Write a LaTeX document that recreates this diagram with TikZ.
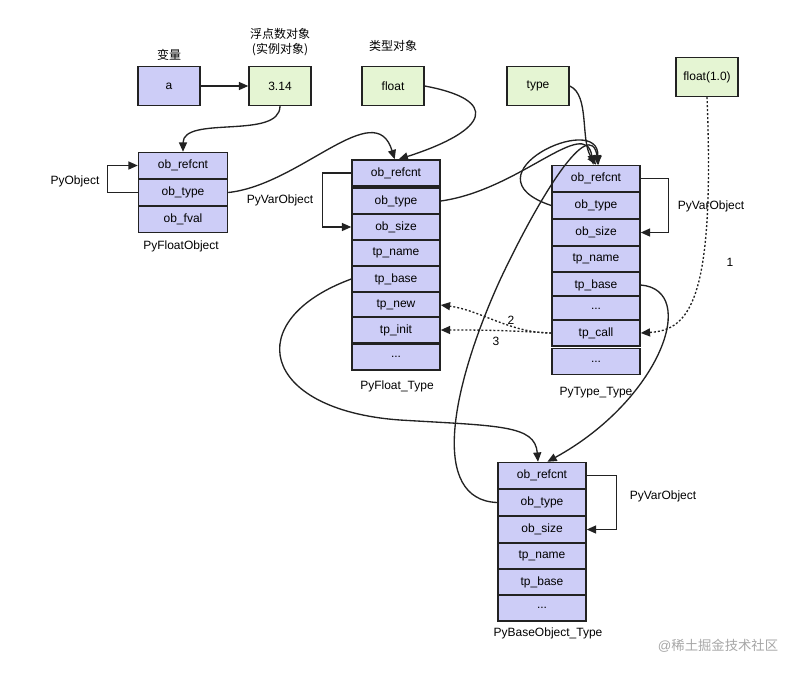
\documentclass[tikz,border=0pt]{standalone}
\usepackage{fontspec}
\setmainfont{Liberation Sans}
\newfontfamily\cjk{Noto Sans CJK SC}
\usetikzlibrary{arrows.meta}
\definecolor{bfill}{HTML}{CDCDF7}
\definecolor{gfill}{HTML}{E5F5D3}
\definecolor{edge}{HTML}{222222}
\begin{document}
\begin{tikzpicture}[x=0.75pt,y=-0.75pt,font=\fontsize{9}{10}\selectfont,
  box/.style={draw=edge,line width=1.1pt,minimum width=46.5pt,minimum height=29pt,inner sep=0pt},
  row/.style={draw=edge,line width=1.1pt,fill=bfill,minimum width=66pt,minimum height=19.5pt,inner sep=0pt},
  lbl/.style={inner sep=1pt},
  arr/.style={draw=edge,line width=1pt,-{Triangle[length=7pt,width=6pt]}},
  dot/.style={arr,dash pattern=on 1.5pt off 1.5pt}]
\useasboundingbox (0,0) rectangle (805,676);
% top boxes
\node[box,fill=bfill] (a) at (169,86) {a};
\node[box,fill=gfill] (v) at (280,86) {3.14};
\node[box,fill=gfill] (fl) at (393,86) {float};
\node[box,fill=gfill] (ty) at (538,86) {type};
\node[box,fill=gfill] (f1) at (707,77) {float(1.0)};
\node[lbl,font=\cjk\fontsize{9}{10}\selectfont] (la) at (169,55) {变量};
\node[lbl,font=\cjk\fontsize{9}{11}\selectfont,align=center] (lv) at (280,42) {浮点数对象\\(实例对象)};
\node[lbl,font=\cjk\fontsize{9}{10}\selectfont] (lf) at (393,46) {类型对象};
% PyFloatObject
\node[row,minimum width=66.75pt] (fo1) at (183,165.5) {ob\_refcnt};
\node[row,minimum width=66.75pt] (fo2) at (183,192.5) {ob\_type};
\node[row,minimum width=66.75pt] (fo3) at (183,219.5) {ob\_fval};
\node[lbl] (lfo) at (181,246) {PyFloatObject};
% PyFloat_Type
\node[row] (ft1) at (396,173) {ob\_refcnt};
\node[row] (ft2) at (396,201) {ob\_type};
\node[row] (ft3) at (396,227) {ob\_size};
\node[row] (ft4) at (396,253) {tp\_name};
\node[row] (ft5) at (396,279) {tp\_base};
\node[row] (ft6) at (396,305) {tp\_new};
\node[row] (ft7) at (396,330) {tp\_init};
\node[row] (ft8) at (396,357) {...};
\node[lbl] (lft) at (397,386) {PyFloat\_Type};
% PyType_Type
\node[row] (tt1) at (596,178.5) {ob\_refcnt};
\node[row] (tt2) at (596,205.5) {ob\_type};
\node[row] (tt3) at (596,232.5) {ob\_size};
\node[row] (tt4) at (596,259) {tp\_name};
\node[row] (tt5) at (596,285) {tp\_base};
\node[row] (tt6) at (596,309) {...};
\node[row] (tt7) at (596,333) {tp\_call};
\node[row] (tt8) at (596,361.5) {...};
\node[lbl] (ltt) at (596,393) {PyType\_Type};
% PyBaseObject_Type
\node[row] (bb1) at (542,475.5) {ob\_refcnt};
\node[row] (bb2) at (542,502.5) {ob\_type};
\node[row] (bb3) at (542,529.5) {ob\_size};
\node[row] (bb4) at (542,556) {tp\_name};
\node[row] (bb5) at (542,582) {tp\_base};
\node[row] (bb6) at (542,608) {...};
\node[lbl] (lbb) at (548,633) {PyBaseObject\_Type};
% bracket labels
\node[lbl] (lpo) at (75,181) {PyObject};
\node[lbl] (lpv1) at (280,200) {PyVarObject};
\node[lbl] (lpv2) at (711,206) {PyVarObject};
\node[lbl] (lpv3) at (663,496) {PyVarObject};
\node[lbl,text=gray!70] (wm) at (718,646) {\fontsize{10}{12}\selectfont @{\cjk 稀土掘金技术社区}};
% brackets
\draw[arr] (fo2.west) -- ++(-30,0) |- (fo1.west);
\draw[arr] (ft1.west) -- ++(-29,0) |- (ft3.west);
\draw[arr] (tt1.east) -- ++(28,0) |- (tt3.east);
\draw[arr] (bb1.east) -- ++(30,0) |- (bb3.east);
% connectors
\draw[arr] (a) -- (v);
\draw[arr] (v.south) .. controls (280,140) and (183,115) .. (fo1.north);
\draw[arr] (fo2.east) .. controls (300,185) and (375,95) .. ([xshift=-1pt]ft1.north);
\draw[arr] (fl.east) .. controls (500,100) and (490,130) .. ([xshift=2pt]ft1.north);
\draw[arr] (ft2.east) .. controls (520,190) and (585,115) .. ([xshift=-2pt]tt1.north);
\draw[arr] (ty.east) .. controls (590,95) and (580,140) .. (tt1.north);
\draw[arr] (tt2.west) .. controls (460,175) and (600,110) .. ([xshift=1pt]tt1.north);
\draw[arr] (bb2.west) .. controls (430,500) and (450,390) .. (500,280) .. controls (540,195) and (590,115) .. ([xshift=2pt]tt1.north);
\draw[arr] (ft5.west) .. controls (240,320) and (260,410) .. (400,420) .. controls (500,426) and (535,425) .. ([xshift=-3pt]bb1.north);
\draw[arr] (tt5.east) .. controls (700,290) and (660,400) .. ([xshift=4pt]bb1.north);
\draw[dot] (f1.south) .. controls (715,300) and (690,330) .. (tt7.east);
\draw[dot] (tt7.west) .. controls (510,333) and (480,310) .. (ft6.east);
\draw[dot] (tt7.west) .. controls (500,330) and (480,330) .. (ft7.east);
\node[lbl] (n1) at (730,262) {1};
\node[lbl] (n2) at (511,320) {2};
\node[lbl] (n3) at (496,341) {3};
\end{tikzpicture}
\end{document}
